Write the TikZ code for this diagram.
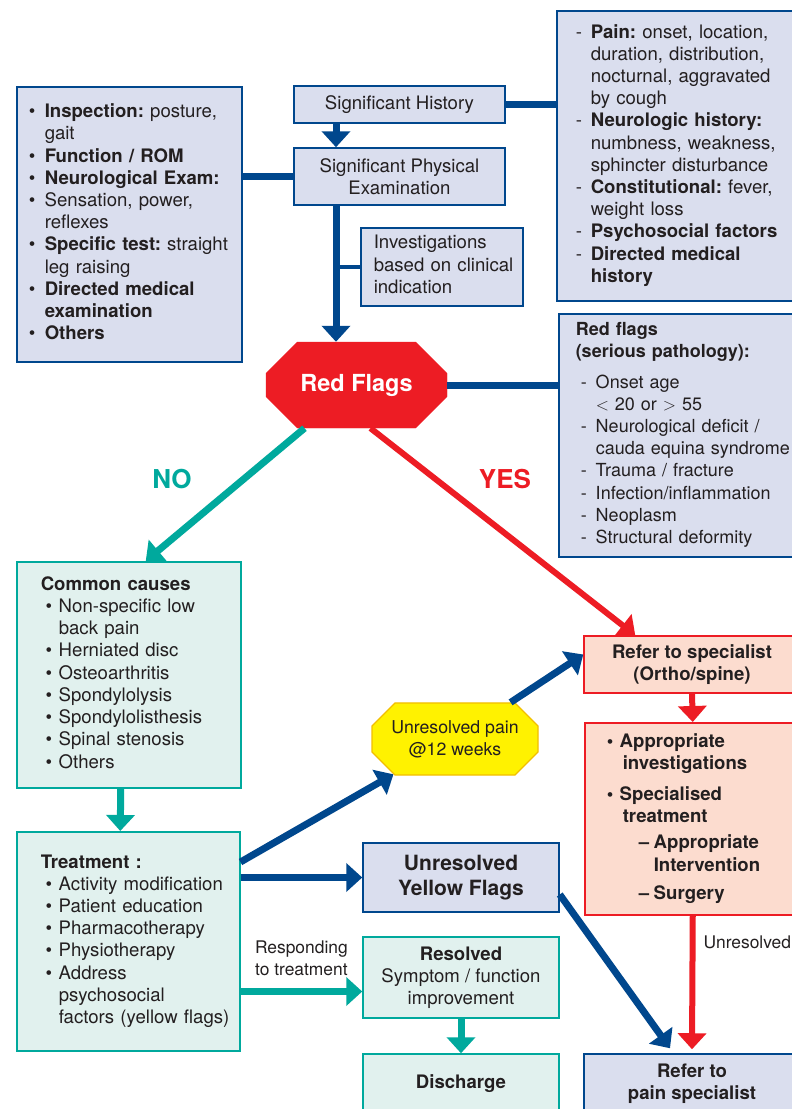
\documentclass[tikz,border=0pt]{standalone}
\usepackage{fontspec}
\setmainfont{TeX Gyre Heros}
\usetikzlibrary{positioning}
\usetikzlibrary{arrows.meta}
\usetikzlibrary{shapes.misc}
\definecolor{flowblue}{RGB}{0,71,141}
\definecolor{paleblue}{RGB}{218,222,238}
\definecolor{flowteal}{RGB}{0,169,157}
\definecolor{paleteal}{RGB}{225,241,238}
\definecolor{flowred}{RGB}{237,28,36}
\definecolor{salmon}{RGB}{252,220,207}
\definecolor{flowyellow}{RGB}{255,242,0}
\definecolor{gold}{RGB}{242,190,0}
\definecolor{ink}{RGB}{35,31,32}

\newcommand{\normfont}{\fontsize{18.6}{22.2}\selectfont}
\newcommand{\smallfont}{\fontsize{17.4}{22}\selectfont}
\newcommand{\boxlines}[1]{\begin{tabular}{@{}l@{}}#1\end{tabular}}
\newcommand{\bul}[1][16pt]{\makebox[#1][l]{\textbullet}}
\newcommand{\dsh}[1][15pt]{\makebox[#1][l]{-}}
\frenchspacing

\begin{document}
\begin{tikzpicture}[x=1pt, y=-1pt,
    basebox/.style={line width=1.5pt, text=ink, font=\normfont, inner ysep=0pt},
    bluebox/.style={basebox, draw=flowblue, fill=paleblue},
    tealbox/.style={basebox, draw=flowteal, fill=paleteal},
    redbox/.style={basebox, draw=flowred, fill=salmon},
    listbox/.style={anchor=north west, align=left},
    octa/.style={chamfered rectangle, chamfered rectangle sep=17pt, draw=flowred, fill=flowred,
      text=white, font=\fontsize{23.5}{26}\selectfont\bfseries},
    yelocta/.style={chamfered rectangle, chamfered rectangle xsep=9pt, chamfered rectangle ysep=14pt,
      draw=gold, fill=flowyellow, line width=1.2pt, text=ink, font=\fontsize{17.7}{22}\selectfont, align=center},
    flowarrow/.style={line width=7pt, -{Triangle[width=28pt,length=16pt]}},
    link/.style={line width=7pt, draw=flowblue}]
    \useasboundingbox (0,0) rectangle (792,1109);
    \fill[white] (0,0) rectangle (792,1109);

    % draw top boxes
    \node[bluebox, listbox, minimum width=225, minimum height=275, text width=201, inner xsep=12] (exam) at (16,86) {\boxlines{
      \bul\textbf{Inspection:} posture,\\
      \hspace*{16pt}gait\\
      \bul\textbf{Function / ROM}\\
      \bul\textbf{Neurological Exam:}\\
      \bul Sensation, power,\\
      \hspace*{16pt}reflexes\\
      \bul\textbf{Specific test:} straight\\
      \hspace*{16pt}leg raising\\
      \bul\textbf{Directed medical}\\
      \hspace*{16pt}\textbf{examination}\\
      \bul\textbf{Others}}};
    \node[bluebox, minimum width=211, minimum height=37] (hist) at (399.5,104.5) {Significant History};
    \node[bluebox, minimum width=211, minimum height=57, align=center] (phys) at (399.5,176.5) {Significant Physical\\Examination};
    \node[bluebox, listbox, minimum width=162, minimum height=78, text width=136, inner xsep=13] (inv) at (360,227) {\boxlines{
      Investigations\\based on clinical\\indication}};
    \node[bluebox, listbox, minimum height=290, text width=206, inner xsep=19] (histinfo) at (556,10) {\boxlines{
      \dsh\textbf{Pain:} onset, location,\\
      \hspace*{15pt}duration, distribution,\\
      \hspace*{15pt}nocturnal, aggravated\\
      \hspace*{15pt}by cough\\
      \dsh\textbf{Neurologic history:}\\
      \hspace*{15pt}numbness, weakness,\\
      \hspace*{15pt}sphincter disturbance\\
      \dsh\textbf{Constitutional:} fever,\\
      \hspace*{15pt}weight loss\\
      \dsh\textbf{Psychosocial factors}\\
      \dsh\textbf{Directed medical}\\
      \hspace*{15pt}\textbf{history}}};
    \node[bluebox, listbox, minimum height=243, text width=208, inner xsep=17, font=\fontsize{18}{22.2}\selectfont] (rfinfo) at (558,313) {\boxlines{
      \textbf{Red flags}\\
      \textbf{(serious pathology):}\\[8pt]
      \hspace*{5pt}\dsh[15pt]Onset age\\
      \hspace*{20pt}$<$ 20 or $>$ 55\\
      \hspace*{5pt}\dsh[15pt]Neurological deficit /\\
      \hspace*{20pt}cauda equina syndrome\\
      \hspace*{5pt}\dsh[15pt]Trauma / fracture\\
      \hspace*{5pt}\dsh[15pt]Infection/inflammation\\
      \hspace*{5pt}\dsh[15pt]Neoplasm\\
      \hspace*{5pt}\dsh[15pt]Structural deformity}};
    \node[octa, minimum width=181, minimum height=86] (rf) at (356.5,385) {Red Flags};

    % draw lower boxes
    \node[tealbox, listbox, minimum width=224, minimum height=226, text width=176, inner xsep=24] (common) at (16,561) {\boxlines{
      \textbf{Common causes}\\
      \hspace*{5pt}\bul[13pt]Non-specific low\\
      \hspace*{18pt}back pain\\
      \hspace*{5pt}\bul[13pt]Herniated disc\\
      \hspace*{5pt}\bul[13pt]Osteoarthritis\\
      \hspace*{5pt}\bul[13pt]Spondylolysis\\
      \hspace*{5pt}\bul[13pt]Spondylolisthesis\\
      \hspace*{5pt}\bul[13pt]Spinal stenosis\\
      \hspace*{5pt}\bul[13pt]Others}};
    \node[tealbox, listbox, minimum width=223, minimum height=219, text width=175, inner xsep=24] (treat) at (16,831) {\boxlines{
      \textbf{Treatment :}\\
      \hspace*{5pt}\bul[13pt]Activity modification\\
      \hspace*{5pt}\bul[13pt]Patient education\\
      \hspace*{5pt}\bul[13pt]Pharmacotherapy\\
      \hspace*{5pt}\bul[13pt]Physiotherapy\\
      \hspace*{5pt}\bul[13pt]Address\\
      \hspace*{18pt}psychosocial\\
      \hspace*{18pt}factors (yellow flags)}};
    \node[yelocta, minimum width=166, minimum height=70] (pain) at (455,739) {Unresolved pain\\@12 weeks};
    \node[bluebox, minimum width=196, minimum height=69, align=center, font=\fontsize{21}{25}\selectfont\bfseries] (yf) at (461,877.5) {Unresolved\\Yellow Flags};
    \node[tealbox, minimum width=196, minimum height=81, align=center] (res) at (461,977.5) {\textbf{Resolved}\\Symptom / function\\improvement};
    \node[tealbox, minimum width=196, minimum height=60, font=\normfont\bfseries] (dis) at (461,1084) {Discharge};
    \node[redbox, minimum width=216, minimum height=57, align=center, font=\normfont\bfseries] (spec) at (692,664.5) {Refer to specialist\\(Ortho/spine)};
    \node[redbox, listbox, minimum width=216, minimum height=192, text width=172, inner xsep=22, font=\normfont\bfseries] (specb) at (584,722) {\boxlines{
      \bul[13pt]Appropriate\\
      \hspace*{16pt}investigations\\[9pt]
      \bul[13pt]Specialised\\
      \hspace*{16pt}treatment\\[4pt]
      \hspace*{32pt}\makebox[15pt][l]{--}Appropriate\\
      \hspace*{47pt}Intervention\\[6pt]
      \hspace*{32pt}\makebox[15pt][l]{--}Surgery}};
    \node[bluebox, minimum width=216, minimum height=60, align=center, font=\normfont\bfseries] (painspec) at (692,1084) {Refer to\\pain specialist};

    % draw connectors
    \coordinate (spine) at (336,0);
    \draw[flowarrow, flowblue] (hist.south -| spine) -- (phys.north -| spine);
    \draw[link] (exam.east |- phys.west) -- (phys.west);
    \draw[link] (hist.east) -- (histinfo.west |- hist.east);
    \draw[flowarrow, flowblue] (phys.south -| spine) -- (rf.north -| spine);
    \draw[flowblue, line width=4pt] (spine |- inv.west) -- (inv.west);
    \draw[link] (rf.east) -- (rfinfo.west |- rf.east);

    \draw[flowarrow, flowteal] ([xshift=-52pt]rf.south) -- ([xshift=17pt]common.north);
    \draw[flowarrow, flowred, line width=6pt] ([xshift=14pt]rf.south) -- ([xshift=52pt]spec.north west);
    \node[text=flowteal, font=\fontsize{26}{30}\selectfont\bfseries] (no) at (172,479) {NO};
    \node[text=flowred, font=\fontsize{26}{30}\selectfont\bfseries] (yes) at (505,479) {YES};

    \draw[flowarrow, flowteal] ([xshift=-8pt]common.south) -- ([xshift=-8pt]treat.north);
    \draw[flowarrow, flowblue] ([yshift=-31pt]treat.north east) -- (pain);
    \draw[flowarrow, flowblue] (pain) -- ([yshift=10pt]spec.west);
    \draw[flowarrow, flowblue] (treat.east |- yf.west) -- (yf.west);
    \coordinate (resin) at ([yshift=-14pt]res.west);
    \draw[flowarrow, flowteal] (treat.east |- resin) -- node[above=12pt, inner sep=0pt, align=center, text=ink, font=\smallfont] (resp) {Responding\\to treatment} (resin);
    \draw[flowarrow, flowteal] (res.south) -- (dis.north);
    \draw[flowarrow, flowred, line width=6pt] (spec.south) -- (specb.north);
    \draw[flowarrow, flowred, line width=6pt] (specb.south) -- node[pos=0.2, right=8pt, inner sep=0pt, text=ink, font=\smallfont] (unres) {Unresolved} ([yshift=4pt]painspec.north);
    \draw[flowarrow, flowblue] ([yshift=-17pt]yf.east) -- ([xshift=-22pt, yshift=5pt]painspec.north);
\end{tikzpicture}
\end{document}
